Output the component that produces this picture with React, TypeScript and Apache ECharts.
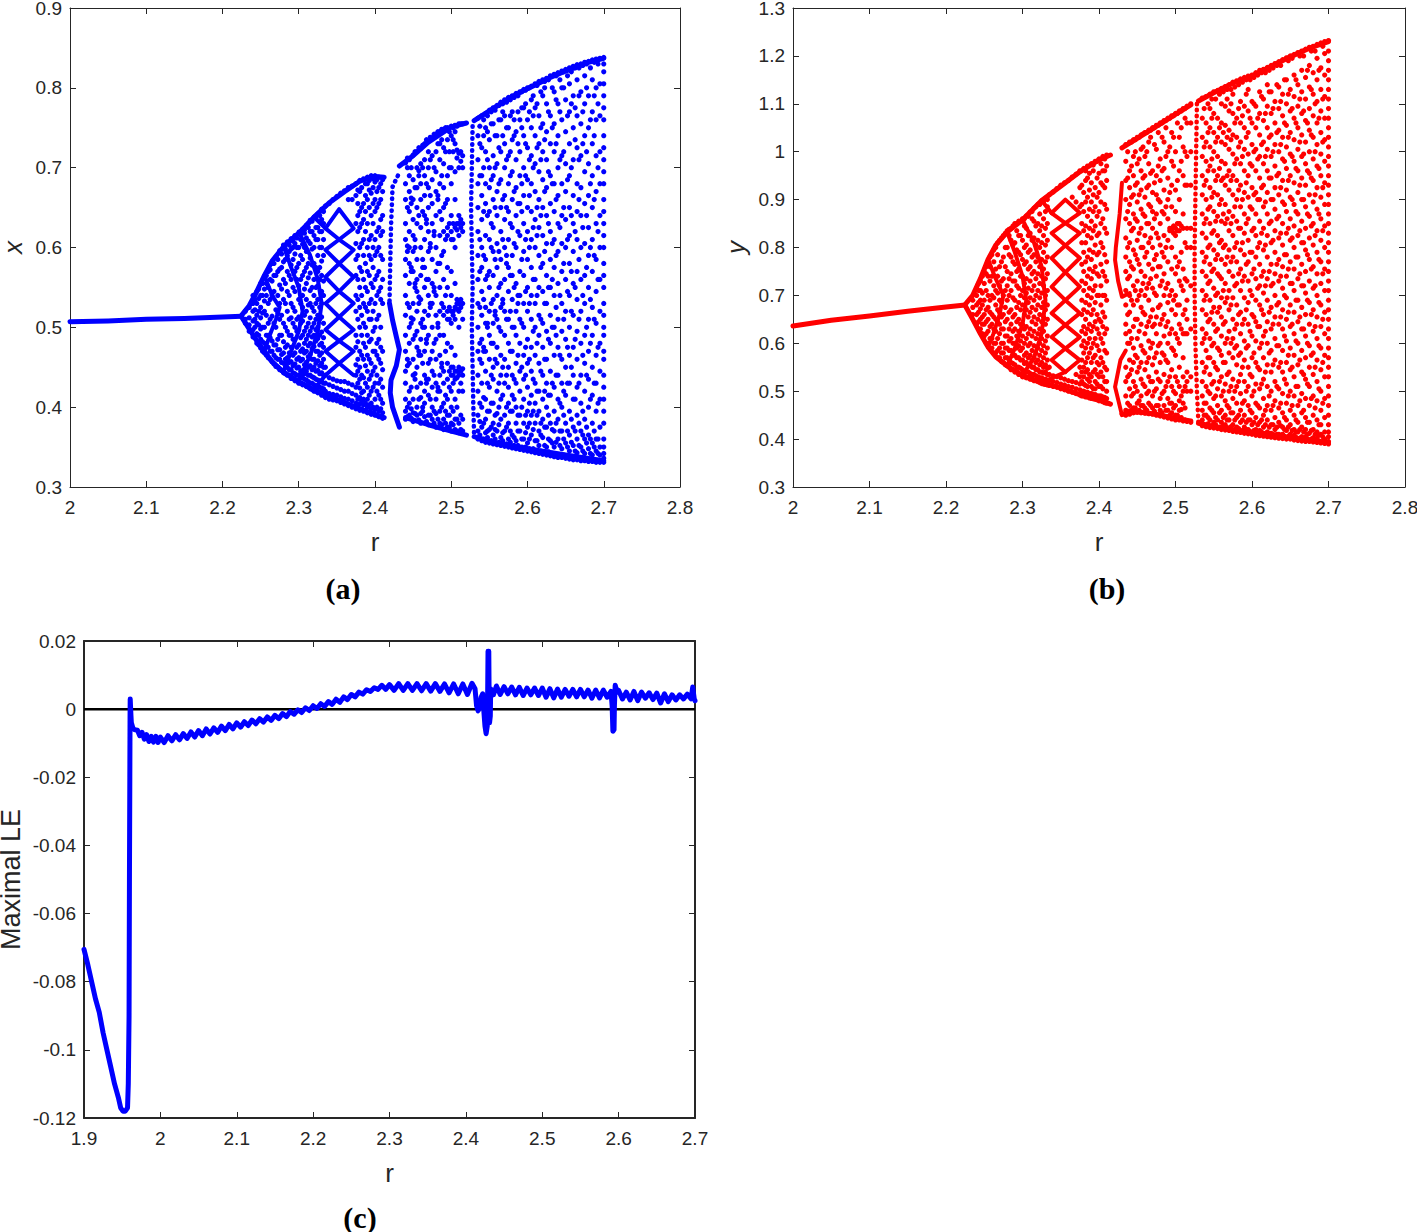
import React, { useEffect, useRef } from "react";
import * as echarts from "echarts";

const BLUE = "#0000ff";
const RED = "#ff0000";
const INK = "#262626";

// Panel (a): stable branch, envelopes and window curves, as [r, x]
const xStable = [[2, 0.507], [2.05, 0.508], [2.1, 0.51], [2.15, 0.511], [2.2, 0.513], [2.225, 0.514]];
const xUpper = [[2.225, 0.515], [2.235, 0.527], [2.245, 0.545], [2.255, 0.565], [2.265, 0.583], [2.28, 0.601], [2.3, 0.618], [2.32, 0.638], [2.34, 0.656], [2.36, 0.67], [2.38, 0.683], [2.4, 0.689], [2.412, 0.688]];
const xLower = [[2.225, 0.513], [2.235, 0.498], [2.245, 0.483], [2.255, 0.47], [2.265, 0.457], [2.28, 0.444], [2.3, 0.432], [2.32, 0.422], [2.35, 0.41], [2.38, 0.398], [2.412, 0.387]];
const xUpper2 = [[2.432, 0.702], [2.45, 0.715], [2.47, 0.732], [2.5, 0.751], [2.52, 0.756]];
const xUpper3 = [[2.53, 0.759], [2.55, 0.771], [2.58, 0.789], [2.6, 0.799], [2.63, 0.813], [2.65, 0.821], [2.68, 0.832], [2.7, 0.837]];
const xLower2 = [[2.44, 0.387], [2.47, 0.378], [2.5, 0.37], [2.52, 0.365]];
const xLower3 = [[2.53, 0.363], [2.56, 0.355], [2.6, 0.348], [2.65, 0.34], [2.7, 0.333]];
const xWindowLow = [[2.419, 0.53], [2.423, 0.509], [2.428, 0.488], [2.432, 0.472], [2.428, 0.452], [2.421, 0.434], [2.42, 0.418], [2.423, 0.4], [2.432, 0.375]];
const xWindowTop = [[2.43, 0.69], [2.423, 0.676], [2.422, 0.65], [2.421, 0.626], [2.42, 0.58], [2.419, 0.53]];
const xWindow2 = [[2.528, 0.752], [2.527, 0.7], [2.526, 0.65], [2.527, 0.6], [2.528, 0.55], [2.527, 0.5], [2.528, 0.45], [2.529, 0.4], [2.53, 0.364]];
const xMeshA = [[2.335, .624], [2.353, .648], [2.372, .624], [2.353, .61], [2.335, .597], [2.353, .58], [2.372, .563], [2.353, .545], [2.335, .53], [2.353, .513], [2.372, .497], [2.353, .483], [2.335, .47], [2.353, .455], [2.372, .44]];
const xMeshB = [[2.335, .624], [2.353, .61], [2.372, .597], [2.353, .58], [2.335, .563], [2.353, .545], [2.372, .53], [2.353, .513], [2.335, .497], [2.353, .483], [2.372, .47], [2.353, .455], [2.335, .44]];
const xMeshC = [[2.28, .602], [2.29, .575], [2.3, .55], [2.305, .52], [2.3, .495], [2.29, .47], [2.28, .444]];
const xMeshD = [[2.3, .62], [2.315, .59], [2.325, .56], [2.33, .53], [2.325, .495], [2.315, .465], [2.3, .433]];
const xMeshE = [[2.255, .565], [2.265, .54], [2.275, .525], [2.27, .51], [2.262, .49], [2.255, .47]];
const xMeshF = [[2.32, .638], [2.335, .624]];
const xMeshG = [[2.32, .422], [2.335, .44]];

// Panel (a): attractor samples, each row is r then the x values read at that r
const xColumns = [
  [2.23, .505, .51, .52], [2.235, .495, .503, .512, .525], [2.24, .488, .497, .508, .52, .53, .54],
  [2.245, .48, .492, .505, .515, .53, .545], [2.25, .474, .485, .498, .512, .525, .54, .555],
  [2.255, .468, .48, .5, .52, .533, .548, .562], [2.26, .462, .475, .49, .505, .53, .55, .57],
  [2.265, .457, .47, .483, .514, .54, .558, .58], [2.27, .451, .462, .478, .5, .522, .565, .588],
  [2.275, .447, .46, .472, .49, .51, .53, .553, .573, .596], [2.28, .443, .455, .468, .482, .505, .535, .56, .582, .603],
  [2.285, .44, .45, .462, .478, .495, .52, .545, .57, .59, .607], [2.29, .436, .447, .457, .475, .49, .512, .53, .56, .578, .598, .611],
  [2.295, .433, .442, .454, .468, .485, .5, .52, .545, .57, .592, .605, .615], [2.3, .43, .44, .45, .462, .478, .497, .513, .535, .552, .58, .6, .618],
  [2.305, .428, .437, .446, .46, .473, .49, .508, .525, .54, .565, .585, .604, .623], [2.31, .426, .434, .445, .456, .47, .485, .5, .52, .535, .555, .575, .595, .612, .628],
  [2.315, .423, .43, .44, .452, .466, .48, .495, .512, .53, .546, .568, .587, .605, .62, .634], [2.32, .42, .428, .437, .45, .46, .476, .49, .505, .52, .54, .56, .58, .6, .615, .638],
  [2.325, .418, .426, .434, .446, .458, .47, .486, .5, .515, .535, .552, .57, .59, .61, .625, .642], [2.33, .415, .424, .432, .443, .455, .468, .48, .494, .513, .53, .545, .565, .583, .6, .62, .635, .648],
  [2.335, .412, .42, .43, .44, .45, .652], [2.34, .41, .417, .428, .437, .655],
  [2.345, .409, .416, .426, .435, .66], [2.35, .408, .415, .424, .433, .664],
  [2.355, .406, .413, .422, .432, .668], [2.36, .404, .411, .42, .432, .671],
  [2.365, .402, .41, .42, .43, .66, .675], [2.37, .4, .408, .417, .428, .66, .677],
  [2.375, .398, .405, .415, .425, .44, .453, .475, .49, .52, .54, .565, .585, .605, .63, .665, .68], [2.38, .396, .404, .412, .424, .435, .45, .47, .5, .525, .55, .575, .6, .625, .645, .67, .684],
  [2.385, .395, .403, .41, .42, .437, .46, .48, .505, .53, .56, .59, .61, .635, .655, .686], [2.39, .393, .4, .41, .425, .445, .465, .49, .52, .545, .57, .6, .63, .66, .68, .688],
  [2.395, .391, .398, .405, .42, .44, .455, .485, .51, .535, .555, .585, .615, .64, .668, .69], [2.4, .39, .397, .41, .43, .45, .47, .5, .53, .56, .59, .61, .645, .66, .682, .69],
  [2.405, .388, .395, .415, .43, .46, .485, .515, .545, .57, .6, .625, .655, .675, .688], [2.41, .386, .393, .405, .425, .447, .47, .53, .56, .585, .62, .64, .67, .685],
  [2.44, .385, .395, .41, .43, .445, .47, .49, .515, .54, .565, .585, .61, .63, .66, .68, .706], [2.445, .39, .405, .42, .455, .48, .5, .525, .555, .58, .6, .62, .645, .67, .69, .71],
  [2.45, .382, .393, .41, .44, .46, .485, .51, .53, .57, .595, .615, .635, .66, .685, .716], [2.455, .39, .4, .425, .45, .475, .495, .52, .545, .56, .585, .63, .65, .675, .7, .72],
  [2.46, .38, .392, .412, .43, .465, .485, .505, .535, .565, .6, .625, .66, .68, .705, .724], [2.465, .388, .405, .42, .44, .47, .5, .52, .55, .575, .61, .64, .665, .69, .71, .73],
  [2.47, .378, .39, .415, .435, .455, .49, .515, .54, .56, .595, .62, .65, .675, .7, .72, .733], [2.475, .385, .4, .425, .445, .47, .5, .53, .555, .585, .63, .655, .685, .715, .737],
  [2.48, .375, .392, .41, .43, .46, .485, .515, .54, .57, .6, .64, .67, .695, .72, .742], [2.485, .38, .395, .42, .44, .465, .49, .52, .55, .58, .615, .645, .68, .71, .73, .745],
  [2.49, .372, .385, .405, .43, .445, .49, .515, .525, .56, .595, .62, .65, .675, .705, .725, .748], [2.495, .375, .39, .41, .435, .455, .48, .51, .52, .55, .575, .615, .625, .66, .69, .735, .75],
  [2.5, .37, .38, .4, .42, .44, .45, .475, .505, .52, .54, .57, .61, .62, .64, .68, .7, .74, .752], [2.505, .372, .385, .41, .435, .445, .465, .51, .525, .555, .6, .625, .66, .695, .73, .745, .753],
  [2.51, .368, .38, .42, .44, .45, .5, .52, .53, .615, .63, .64, .7, .718, .755], [2.515, .37, .385, .42, .44, .448, .51, .53, .62, .63, .7, .715, .755],
  [2.535, .36, .37, .39, .42, .44, .47, .5, .53, .56, .59, .62, .65, .68, .71, .74, .762], [2.54, .358, .375, .4, .43, .455, .485, .515, .545, .575, .6, .635, .665, .69, .725, .765],
  [2.545, .356, .368, .385, .41, .445, .47, .505, .525, .56, .585, .615, .655, .68, .72, .75, .768], [2.55, .355, .372, .395, .425, .46, .49, .52, .55, .57, .61, .645, .675, .7, .735, .772],
  [2.555, .354, .365, .38, .405, .435, .45, .48, .505, .535, .565, .595, .625, .66, .69, .715, .755, .775], [2.56, .353, .37, .392, .42, .455, .475, .51, .54, .575, .605, .64, .67, .705, .74, .778],
  [2.565, .352, .362, .385, .41, .44, .465, .495, .525, .555, .585, .62, .65, .685, .72, .76, .782], [2.57, .351, .37, .39, .43, .46, .49, .52, .56, .6, .635, .665, .7, .73, .765, .785],
  [2.575, .35, .36, .38, .405, .425, .45, .48, .51, .545, .575, .61, .645, .68, .715, .75, .788], [2.58, .349, .365, .395, .415, .44, .47, .5, .535, .565, .59, .625, .66, .695, .735, .77, .79],
  [2.585, .348, .358, .38, .4, .43, .455, .49, .52, .555, .6, .64, .675, .71, .745, .793], [2.59, .347, .37, .39, .42, .445, .48, .51, .54, .57, .615, .655, .69, .72, .76, .795],
  [2.595, .346, .36, .38, .41, .435, .465, .5, .53, .565, .595, .63, .665, .7, .74, .775, .798], [2.6, .345, .355, .375, .395, .425, .455, .485, .52, .55, .585, .62, .65, .685, .725, .76, .8],
  [2.605, .344, .365, .39, .415, .445, .475, .51, .54, .575, .61, .645, .68, .715, .75, .785, .802], [2.61, .343, .358, .38, .405, .43, .465, .5, .53, .56, .6, .635, .67, .705, .74, .775, .805],
  [2.615, .342, .352, .37, .395, .42, .455, .49, .515, .55, .59, .625, .66, .695, .73, .765, .808], [2.62, .341, .362, .385, .41, .44, .475, .505, .545, .58, .615, .65, .685, .72, .755, .79, .81],
  [2.625, .34, .35, .375, .4, .43, .46, .495, .53, .565, .605, .64, .675, .71, .745, .78, .812], [2.63, .339, .358, .38, .415, .445, .48, .515, .55, .585, .62, .655, .69, .73, .765, .815],
  [2.635, .338, .35, .37, .395, .425, .465, .5, .54, .575, .61, .645, .68, .72, .755, .795, .817], [2.64, .337, .36, .385, .41, .44, .475, .51, .555, .595, .63, .665, .7, .74, .78, .819],
  [2.645, .337, .348, .37, .4, .43, .46, .495, .53, .57, .605, .64, .68, .715, .76, .8, .821], [2.65, .336, .355, .38, .415, .45, .485, .52, .56, .6, .635, .67, .705, .745, .785, .823],
  [2.655, .335, .345, .365, .395, .43, .465, .5, .54, .58, .615, .65, .69, .73, .77, .805, .825], [2.66, .334, .352, .375, .41, .44, .475, .515, .555, .595, .63, .665, .71, .75, .79, .827],
  [2.665, .334, .343, .36, .39, .425, .46, .495, .535, .57, .61, .645, .68, .725, .765, .81, .829], [2.67, .333, .35, .37, .405, .44, .48, .52, .56, .6, .64, .675, .715, .755, .795, .83],
  [2.675, .333, .342, .36, .385, .42, .455, .49, .53, .565, .605, .655, .695, .74, .78, .815, .832], [2.68, .332, .348, .365, .4, .435, .47, .51, .55, .59, .625, .665, .705, .75, .79, .833],
  [2.685, .332, .34, .355, .38, .415, .45, .49, .525, .57, .61, .65, .69, .73, .77, .81, .835], [2.69, .331, .345, .36, .395, .43, .465, .505, .545, .585, .63, .67, .715, .76, .8, .836],
  [2.695, .331, .34, .35, .375, .41, .445, .48, .52, .56, .6, .64, .68, .72, .765, .805, .837],
  [2.7, .331, .336, .342, .35, .36, .38, .395, .41, .425, .44, .46, .47, .49, .5, .515, .53, .55, .565, .58, .6, .615, .63, .645, .66, .68, .695, .71, .725, .74, .76, .775, .79, .805, .82, .83, .838],
];

// Panel (a): further irregular samples read between the rows above
const xExtra = [
  [2.4425, .388, .4, .452, .46, .53, .595, .602, .65, .7, .712], [2.4475, .386, .398, .425, .505, .512, .57, .575, .655, .662, .7],
  [2.4525, .392, .435, .442, .49, .55, .555, .61, .6, .675, .72], [2.4575, .384, .41, .465, .47, .53, .538, .64, .69, .696, .725],
  [2.4625, .395, .4, .455, .5, .51, .575, .585, .645, .7, .728], [2.4675, .382, .43, .435, .48, .485, .56, .63, .635, .68, .735],
  [2.4725, .39, .41, .46, .525, .53, .6, .605, .665, .71, .738], [2.4775, .38, .395, .44, .48, .545, .55, .615, .62, .7, .742],
  [2.4825, .385, .42, .425, .5, .505, .58, .66, .665, .73, .745], [2.4875, .378, .4, .45, .455, .53, .59, .635, .69, .735, .748],
  [2.4925, .38, .395, .415, .47, .54, .61, .655, .72, .75], [2.4975, .375, .39, .425, .445, .51, .525, .63, .7, .72, .745],
  [2.5025, .378, .395, .43, .44, .45, .515, .52, .61, .63, .72, .735, .75], [2.5075, .37, .385, .4, .437, .445, .523, .53, .535, .622, .63, .712, .722, .752], [2.5125, .372, .39, .43, .445, .525, .535, .625, .635, .708, .72, .755],
  [2.5375, .365, .382, .405, .46, .48, .525, .57, .61, .69, .73, .752], [2.5425, .36, .38, .412, .47, .475, .535, .59, .645, .7, .74, .76],
  [2.5475, .362, .37, .395, .43, .5, .505, .565, .64, .71, .745, .765], [2.5525, .358, .375, .405, .44, .48, .53, .6, .63, .685, .755, .77],
  [2.5575, .36, .372, .39, .46, .515, .52, .585, .65, .7, .74, .772], [2.5625, .356, .378, .4, .43, .5, .55, .595, .68, .725, .76, .778],
  [2.5675, .358, .368, .415, .45, .53, .535, .61, .66, .74, .77, .78], [2.5725, .354, .375, .4, .44, .51, .58, .59, .65, .71, .75, .782],
  [2.5775, .356, .37, .395, .47, .52, .565, .63, .69, .72, .765, .785], [2.5825, .352, .362, .41, .435, .5, .55, .605, .67, .74, .76, .788],
  [2.5875, .352, .37, .39, .465, .53, .54, .62, .655, .73, .77, .79], [2.5925, .35, .36, .4, .45, .505, .585, .645, .68, .75, .775, .795],
  [2.5975, .35, .368, .39, .44, .475, .545, .61, .69, .73, .78, .797], [2.6025, .348, .36, .38, .405, .46, .53, .6, .665, .71, .77, .8],
  [2.6075, .348, .372, .395, .435, .495, .56, .625, .7, .765, .79], [2.6125, .346, .358, .39, .42, .48, .54, .615, .65, .725, .78, .803],
  [2.6175, .345, .365, .38, .445, .51, .575, .64, .71, .75, .795], [2.6225, .344, .352, .375, .42, .46, .53, .595, .67, .735, .8, .808],
  [2.6275, .344, .36, .39, .415, .485, .55, .63, .695, .77, .81], [2.6325, .342, .355, .372, .43, .5, .56, .605, .68, .75, .8],
  [2.6375, .34, .356, .38, .44, .49, .525, .59, .66, .73, .785, .815], [2.6425, .34, .352, .37, .405, .465, .54, .625, .71, .77, .81],
  [2.6475, .34, .36, .39, .42, .51, .58, .65, .72, .8, .82], [2.6525, .338, .35, .37, .43, .475, .545, .61, .685, .765, .815],
  [2.6575, .338, .356, .385, .45, .52, .57, .64, .7, .78, .82], [2.6625, .336, .345, .37, .41, .485, .55, .62, .735, .775, .825],
  [2.6675, .336, .352, .38, .43, .51, .585, .66, .71, .79, .825], [2.6725, .335, .345, .365, .395, .465, .54, .625, .73, .77, .828],
  [2.6775, .335, .355, .375, .44, .5, .575, .64, .72, .8, .83], [2.6825, .334, .342, .36, .41, .48, .535, .6, .68, .76, .825],
  [2.6875, .333, .35, .37, .43, .51, .59, .66, .74, .79, .832], [2.6925, .333, .342, .36, .405, .475, .56, .62, .7, .78, .83],
];

// Panel (a): dense lattice samples left and right of the diamond holes
const xLattice = [
  [2.2425, .487, .5, .51, .522, .535, .54], [2.2475, .478, .49, .503, .52, .536, .548], [2.2525, .47, .482, .5, .518, .54, .555],
  [2.2575, .465, .476, .49, .515, .54, .555, .565], [2.2625, .46, .47, .487, .51, .535, .56, .572], [2.2675, .454, .465, .478, .505, .545, .565, .58],
  [2.2725, .45, .46, .472, .485, .518, .54, .57, .585], [2.2775, .446, .456, .466, .49, .515, .548, .575, .592], [2.2825, .442, .45, .46, .475, .5, .53, .555, .585, .598],
  [2.2875, .44, .447, .456, .468, .49, .51, .54, .565, .595, .603], [2.2925, .436, .443, .452, .465, .485, .505, .525, .55, .585, .6, .608], [2.2975, .433, .44, .449, .46, .475, .495, .51, .56, .575, .6, .612],
  [2.3025, .43, .437, .445, .458, .47, .487, .505, .53, .56, .59, .61, .617], [2.3075, .428, .435, .442, .453, .468, .48, .495, .515, .548, .57, .6, .618, .622], [2.3125, .425, .432, .44, .45, .463, .477, .49, .505, .528, .562, .58, .608, .625, .63],
  [2.3175, .422, .43, .438, .447, .46, .473, .488, .5, .525, .55, .578, .598, .62, .633], [2.3225, .42, .427, .435, .445, .455, .47, .483, .497, .51, .53, .55, .575, .61, .625, .637], [2.3275, .418, .425, .433, .442, .452, .465, .478, .49, .51, .525, .56, .575, .6, .62, .64],
  [2.3325, .415, .423, .43, .44, .45, .46, .475, .487, .505, .54, .558, .59, .61, .63, .645], [2.3775, .4, .41, .43, .445, .46, .482, .51, .535, .56, .59, .62, .64, .655, .672],
  [2.3825, .398, .408, .418, .44, .465, .49, .515, .54, .57, .605, .63, .65, .675], [2.3875, .396, .405, .43, .452, .475, .5, .525, .55, .58, .62, .645, .665, .68],
  [2.3925, .394, .403, .415, .435, .46, .482, .51, .53, .565, .59, .61, .65, .672, .684], [2.3975, .392, .4, .425, .445, .47, .495, .52, .55, .575, .6, .63, .655, .675, .686],
  [2.4025, .39, .4, .42, .44, .465, .48, .51, .54, .565, .595, .62, .65, .67, .685], [2.4075, .388, .398, .41, .435, .455, .475, .5, .535, .55, .59, .615, .635, .66, .68],
];

// Panel (b): stable branch, envelopes and window curves, as [r, y]
const yStable = [[2, 0.636], [2.05, 0.648], [2.1, 0.657], [2.15, 0.667], [2.2, 0.676], [2.225, 0.68]];
const yUpper = [[2.225, 0.681], [2.235, 0.7], [2.245, 0.735], [2.255, 0.775], [2.265, 0.805], [2.28, 0.832], [2.3, 0.858], [2.325, 0.898], [2.35, 0.928], [2.375, 0.958], [2.4, 0.983], [2.415, 0.993]];
const yLower = [[2.225, 0.679], [2.235, 0.65], [2.245, 0.62], [2.255, 0.592], [2.265, 0.572], [2.28, 0.553], [2.3, 0.533], [2.325, 0.518], [2.35, 0.507], [2.375, 0.493], [2.4, 0.483], [2.415, 0.473]];
const yUpper2 = [[2.43, 1.008], [2.45, 1.028], [2.475, 1.053], [2.5, 1.078], [2.52, 1.098]];
const yUpper3 = [[2.53, 1.106], [2.55, 1.123], [2.575, 1.143], [2.6, 1.158], [2.625, 1.178], [2.65, 1.198], [2.675, 1.216], [2.7, 1.23]];
const yLower2 = [[2.43, 0.452], [2.45, 0.457], [2.475, 0.452], [2.5, 0.443], [2.52, 0.438]];
const yLower3 = [[2.53, 0.433], [2.56, 0.423], [2.6, 0.413], [2.65, 0.403], [2.7, 0.393]];
const yWindowUp = [[2.43, 0.935], [2.427, 0.87], [2.422, 0.8], [2.421, 0.774], [2.425, 0.73], [2.43, 0.697], [2.44, 0.705]];
const yWindowLow = [[2.44, 0.46], [2.43, 0.45], [2.421, 0.509], [2.428, 0.565], [2.435, 0.585]];
const yWindow2 = [[2.528, 1.1], [2.527, 1.0], [2.526, 0.9], [2.525, 0.8], [2.525, 0.7], [2.526, 0.6], [2.528, 0.5], [2.53, 0.433]];
const yMeshA = [[2.338, .872], [2.356, .9], [2.375, .872], [2.356, .851], [2.338, .83], [2.356, .804], [2.375, .778], [2.356, .748], [2.338, .718], [2.356, .69], [2.375, .663], [2.356, .638], [2.338, .613], [2.356, .589], [2.375, .565], [2.356, .54]];
const yMeshB = [[2.338, .872], [2.356, .851], [2.375, .83], [2.356, .804], [2.338, .778], [2.356, .748], [2.375, .718], [2.356, .69], [2.338, .663], [2.356, .638], [2.375, .613], [2.356, .589], [2.338, .565], [2.356, .54]];
const yMeshC = [[2.28, .832], [2.29, .79], [2.3, .74], [2.305, .69], [2.3, .64], [2.29, .59], [2.28, .553]];
const yMeshD = [[2.3, .858], [2.315, .81], [2.325, .76], [2.33, .69], [2.325, .62], [2.315, .57], [2.3, .533]];
const yMeshE = [[2.255, .775], [2.265, .735], [2.275, .7], [2.27, .66], [2.262, .62], [2.255, .592]];
const yMeshF = [[2.325, .898], [2.338, .872]];
const yMeshG = [[2.325, .518], [2.356, .54]];

// Panel (b): attractor samples, each row is r then the y values read at that r
const yColumns = [
  [2.235, .66, .675, .69], [2.24, .64, .66, .68, .7, .715], [2.245, .63, .65, .672, .69, .71, .73],
  [2.25, .615, .64, .66, .69, .725, .75], [2.255, .6, .625, .65, .675, .7, .74, .77], [2.26, .59, .61, .64, .66, .7, .74, .785],
  [2.265, .58, .6, .625, .65, .68, .71, .755, .8], [2.27, .57, .59, .62, .64, .665, .69, .72, .76, .815], [2.275, .56, .58, .6, .63, .66, .7, .735, .78, .825],
  [2.28, .553, .57, .59, .615, .65, .69, .72, .75, .8, .835], [2.285, .545, .56, .585, .61, .64, .67, .71, .745, .78, .815, .84], [2.29, .54, .555, .575, .6, .63, .66, .69, .73, .765, .81, .85],
  [2.295, .535, .55, .57, .595, .625, .65, .685, .715, .755, .79, .825, .855], [2.3, .53, .545, .565, .59, .615, .64, .68, .71, .74, .775, .815, .86], [2.305, .528, .54, .56, .58, .61, .635, .67, .705, .735, .77, .805, .84, .866],
  [2.31, .525, .537, .555, .575, .6, .63, .665, .695, .73, .76, .795, .83, .874], [2.315, .522, .535, .55, .57, .595, .625, .655, .69, .72, .75, .785, .82, .855, .882], [2.32, .52, .53, .545, .565, .59, .62, .65, .68, .71, .745, .78, .815, .85, .89],
  [2.325, .516, .528, .54, .56, .585, .61, .645, .675, .705, .74, .775, .81, .845, .897], [2.33, .514, .525, .54, .555, .58, .605, .64, .67, .7, .735, .77, .805, .84, .875, .903], [2.335, .512, .522, .535, .55, .91],
  [2.34, .51, .52, .532, .916], [2.345, .508, .518, .53, .923], [2.35, .505, .515, .528, .93],
  [2.355, .503, .513, .525, .935], [2.36, .5, .51, .522, .94], [2.365, .498, .508, .52, .905, .947],
  [2.37, .495, .505, .518, .535, .895, .953], [2.375, .492, .503, .515, .53, .55, .885, .925, .96], [2.38, .49, .5, .515, .53, .55, .58, .605, .635, .67, .71, .75, .79, .835, .875, .915, .965],
  [2.385, .488, .498, .51, .525, .545, .57, .6, .63, .665, .7, .74, .78, .825, .865, .905, .945, .97], [2.39, .485, .495, .51, .53, .56, .59, .625, .66, .695, .735, .775, .82, .855, .895, .935, .975], [2.395, .483, .493, .505, .52, .545, .575, .61, .645, .685, .72, .76, .805, .845, .885, .925, .98],
  [2.4, .48, .49, .51, .53, .555, .585, .62, .65, .7, .74, .79, .83, .875, .915, .955, .985], [2.405, .478, .488, .505, .53, .56, .6, .635, .665, .7, .75, .8, .86, .93, .96, .99], [2.41, .475, .485, .5, .52, .545, .58, .63, .69, .73, .77, .83, .88, .94, .97, .993],
  [2.435, .45, .46, .49, .52, .55, .62, .64, .68, .71, .75, .78, .82, .86, .9, .94, .98, 1.015], [2.44, .452, .47, .505, .535, .565, .6, .625, .665, .7, .74, .77, .81, .85, .89, .925, .96, 1.02], [2.445, .455, .465, .495, .52, .56, .59, .635, .68, .72, .755, .795, .84, .87, .91, .95, .99, 1.025],
  [2.45, .456, .475, .5, .54, .57, .61, .65, .69, .73, .775, .815, .855, .895, .935, .975, 1.03], [2.455, .455, .47, .49, .525, .56, .595, .64, .675, .71, .75, .8, .84, .88, .92, .96, 1.005, 1.035], [2.46, .454, .465, .51, .545, .58, .62, .66, .7, .74, .78, .825, .865, .905, .95, .99, 1.04],
  [2.465, .453, .475, .5, .53, .57, .605, .645, .69, .725, .765, .81, .85, .89, .93, .975, 1.02, 1.045], [2.47, .452, .465, .49, .52, .555, .6, .635, .67, .715, .755, .8, .84, .875, .915, .96, 1.05], [2.475, .45, .47, .505, .54, .58, .62, .655, .7, .74, .785, .83, .87, .91, .95, 1.005, 1.055],
  [2.48, .448, .46, .485, .52, .56, .6, .64, .68, .72, .76, .805, .85, .895, .94, .985, 1.06], [2.485, .446, .47, .5, .535, .575, .615, .66, .7, .745, .78, .825, .87, .92, .965, 1.02, 1.065], [2.49, .444, .46, .485, .52, .56, .6, .645, .685, .725, .77, .815, .86, .9, .945, 1.0, 1.07],
  [2.495, .442, .455, .475, .51, .545, .59, .63, .67, .71, .755, .8, .84, .835, .885, .93, .98, 1.04, 1.075], [2.5, .44, .45, .47, .495, .53, .575, .62, .66, .7, .745, .78, .825, .84, .875, .92, 1.0, 1.08], [2.505, .44, .46, .48, .51, .55, .6, .64, .68, .73, .77, .835, .85, .9, .96, 1.03, 1.085],
  [2.51, .438, .475, .5, .53, .57, .62, .66, .71, .755, .84, .87, .95, 1.01, 1.09], [2.515, .437, .5, .52, .54, .62, .65, .69, .73, .8, .84, .93, .99, 1.06, 1.095], [2.52, .435, .5, .53, .63, .72, .8, .84, .93, 1.0, 1.06, 1.1],
  [2.535, .428, .44, .46, .49, .52, .56, .6, .63, .67, .71, .75, .79, .83, .87, .91, .95, .99, 1.03, 1.07, 1.112], [2.54, .426, .45, .475, .51, .55, .585, .62, .66, .7, .74, .78, .82, .86, .9, .94, .98, 1.02, 1.06, 1.115],
  [2.545, .424, .44, .465, .495, .535, .57, .61, .65, .69, .73, .765, .805, .85, .885, .925, .97, 1.01, 1.05, 1.09, 1.12], [2.55, .423, .435, .455, .485, .52, .56, .6, .64, .675, .715, .755, .795, .835, .875, .915, .96, 1.0, 1.04, 1.08, 1.125],
  [2.555, .422, .44, .47, .505, .545, .59, .63, .665, .705, .745, .785, .825, .865, .91, .95, .99, 1.03, 1.07, 1.128], [2.56, .42, .435, .46, .49, .53, .575, .615, .655, .695, .735, .775, .815, .855, .9, .94, .98, 1.02, 1.06, 1.1, 1.132],
  [2.565, .419, .43, .45, .48, .515, .56, .6, .645, .685, .725, .765, .805, .85, .89, .93, .975, 1.015, 1.055, 1.095, 1.136], [2.57, .418, .44, .465, .5, .54, .58, .625, .67, .71, .75, .795, .835, .875, .92, .96, 1.005, 1.045, 1.085, 1.14],
  [2.575, .416, .43, .455, .485, .525, .57, .61, .65, .695, .74, .78, .825, .865, .91, .95, .995, 1.035, 1.08, 1.12, 1.145], [2.58, .415, .425, .445, .475, .51, .555, .595, .64, .68, .725, .77, .81, .855, .9, .94, .985, 1.03, 1.07, 1.148],
  [2.585, .414, .435, .46, .495, .535, .58, .62, .665, .71, .755, .795, .84, .885, .93, .975, 1.02, 1.06, 1.105, 1.152], [2.59, .412, .425, .45, .48, .52, .565, .605, .65, .695, .74, .785, .83, .87, .915, .96, 1.005, 1.05, 1.095, 1.155],
  [2.595, .411, .42, .44, .47, .51, .55, .595, .64, .685, .73, .77, .815, .86, .905, .95, .995, 1.04, 1.085, 1.13, 1.158], [2.6, .41, .43, .455, .49, .53, .57, .615, .66, .7, .745, .79, .835, .88, .925, .97, 1.015, 1.06, 1.105, 1.16],
  [2.605, .408, .42, .445, .475, .515, .56, .605, .645, .69, .735, .78, .825, .87, .915, .96, 1.005, 1.05, 1.095, 1.165], [2.61, .407, .418, .435, .465, .505, .545, .59, .635, .68, .72, .765, .81, .855, .9, .945, .99, 1.035, 1.08, 1.125, 1.17],
  [2.615, .406, .425, .45, .485, .525, .57, .615, .66, .705, .75, .795, .84, .885, .93, .975, 1.02, 1.065, 1.11, 1.172], [2.62, .405, .415, .44, .47, .51, .555, .6, .645, .69, .735, .78, .825, .87, .915, .96, 1.005, 1.05, 1.095, 1.14, 1.176],
  [2.625, .404, .412, .43, .46, .5, .54, .585, .63, .675, .72, .765, .81, .855, .9, .945, .99, 1.035, 1.08, 1.125, 1.18], [2.63, .403, .42, .445, .48, .52, .565, .61, .655, .7, .745, .79, .835, .88, .925, .97, 1.015, 1.06, 1.105, 1.184],
  [2.635, .402, .41, .435, .465, .505, .55, .595, .64, .685, .73, .775, .82, .865, .91, .955, 1.0, 1.045, 1.09, 1.135, 1.188], [2.64, .401, .41, .425, .455, .495, .54, .585, .63, .67, .715, .76, .805, .85, .895, .94, .985, 1.03, 1.075, 1.12, 1.192],
  [2.645, .4, .418, .44, .475, .515, .56, .605, .65, .695, .74, .785, .83, .875, .92, .965, 1.01, 1.055, 1.1, 1.15, 1.196], [2.65, .4, .41, .43, .46, .5, .545, .59, .635, .68, .725, .77, .815, .86, .905, .95, .995, 1.04, 1.085, 1.13, 1.2],
  [2.655, .398, .408, .42, .45, .49, .53, .575, .62, .665, .71, .755, .8, .845, .89, .935, .98, 1.025, 1.07, 1.115, 1.16, 1.203], [2.66, .397, .415, .435, .47, .51, .555, .6, .645, .69, .735, .78, .825, .87, .915, .96, 1.005, 1.05, 1.095, 1.14, 1.207],
  [2.665, .396, .405, .425, .455, .495, .54, .585, .63, .675, .72, .765, .81, .855, .9, .945, .99, 1.035, 1.08, 1.125, 1.17, 1.21], [2.67, .395, .405, .42, .445, .485, .525, .57, .615, .66, .705, .75, .795, .84, .885, .93, .975, 1.02, 1.065, 1.11, 1.155, 1.214],
  [2.675, .395, .412, .435, .47, .51, .55, .595, .64, .685, .73, .775, .82, .865, .91, .955, 1.0, 1.045, 1.09, 1.135, 1.18, 1.218], [2.68, .394, .403, .42, .45, .49, .535, .58, .625, .67, .715, .76, .805, .85, .895, .94, .985, 1.03, 1.075, 1.12, 1.165, 1.22],
  [2.685, .393, .402, .415, .44, .48, .52, .565, .61, .655, .7, .745, .79, .835, .88, .925, .97, 1.015, 1.06, 1.105, 1.15, 1.195, 1.224], [2.69, .392, .41, .43, .46, .5, .545, .59, .635, .68, .725, .77, .815, .86, .905, .95, .995, 1.04, 1.085, 1.13, 1.175, 1.227],
  [2.695, .391, .4, .415, .445, .485, .53, .575, .62, .665, .71, .755, .8, .845, .89, .935, .98, 1.025, 1.07, 1.115, 1.16, 1.205, 1.23],
  [2.7, .39, .395, .405, .415, .43, .45, .47, .49, .51, .53, .55, .57, .59, .61, .63, .65, .67, .69, .71, .73, .75, .77, .79, .81, .83, .85, .87, .89, .91, .93, .95, .97, .99, 1.01, 1.03, 1.05, 1.07, 1.09, 1.11, 1.13, 1.15, 1.17, 1.19, 1.21, 1.232],
];

// Panel (b): further irregular samples read between the rows above
const yExtra = [
  [2.4375, .458, .475, .53, .6, .66, .735, .8, .875, .945, 1.0], [2.4425, .46, .49, .545, .61, .69, .76, .835, .905, .97, 1.02],
  [2.4475, .465, .51, .575, .65, .71, .785, .86, .93, 1.0, 1.025], [2.4525, .46, .48, .55, .625, .7, .765, .83, .91, .985, 1.03],
  [2.4575, .47, .515, .585, .665, .725, .8, .87, .945, 1.01, 1.037], [2.4625, .46, .495, .56, .635, .715, .79, .85, .925, 1.0, 1.04],
  [2.4675, .47, .52, .59, .655, .735, .82, .885, .955, 1.03, 1.045], [2.4725, .458, .5, .57, .64, .705, .775, .86, .935, 1.015, 1.05],
  [2.4775, .47, .525, .595, .675, .76, .82, .9, .97, 1.04, 1.055], [2.4825, .455, .495, .58, .65, .73, .79, .875, .96, 1.03, 1.06],
  [2.4875, .46, .51, .565, .635, .715, .8, .885, .99, 1.05, 1.065], [2.4925, .45, .475, .53, .62, .7, .835, .84, .915, 1.01, 1.07],
  [2.4975, .445, .465, .5, .585, .69, .83, .845, .97, 1.03, 1.075], [2.5025, .45, .52, .61, .68, .76, .835, .85, .94, 1.06, 1.08],
  [2.5075, .445, .462, .49, .63, .72, .79, .845, .98, 1.05, 1.085], [2.5125, .44, .465, .51, .62, .67, .735, .81, .93, 1.0, 1.07, 1.09],
  [2.5375, .43, .45, .475, .54, .61, .69, .77, .85, .93, 1.01, 1.09], [2.5425, .432, .445, .5, .57, .645, .725, .8, .88, .96, 1.04, 1.1],
  [2.5475, .428, .46, .515, .595, .665, .75, .83, .905, .985, 1.07, 1.11], [2.5525, .43, .445, .49, .55, .625, .7, .775, .855, .94, 1.02, 1.11],
  [2.5575, .425, .455, .52, .585, .675, .74, .81, .89, .965, 1.05, 1.12], [2.5625, .428, .445, .5, .56, .64, .71, .8, .87, .945, 1.04, 1.125],
  [2.5675, .424, .44, .47, .535, .61, .695, .78, .86, .95, 1.03, 1.11, 1.13], [2.5725, .426, .455, .51, .6, .68, .77, .85, .94, 1.025, 1.1, 1.13],
  [2.5775, .42, .44, .5, .59, .63, .72, .8, .885, .975, 1.06, 1.135], [2.5825, .422, .45, .52, .575, .66, .745, .84, .92, 1.01, 1.09, 1.14],
  [2.5875, .418, .44, .475, .55, .64, .73, .81, .9, .99, 1.075, 1.145], [2.5925, .42, .435, .5, .59, .67, .765, .85, .935, 1.03, 1.12, 1.15],
  [2.5975, .416, .44, .46, .535, .625, .71, .79, .885, .975, 1.07, 1.15], [2.6025, .418, .435, .5, .58, .655, .755, .84, .91, 1.0, 1.1, 1.155],
  [2.6075, .414, .43, .47, .55, .635, .715, .8, .9, .985, 1.07, 1.16], [2.6125, .415, .44, .515, .6, .67, .74, .83, .925, 1.015, 1.115, 1.165],
  [2.6175, .412, .43, .46, .54, .625, .72, .805, .895, .99, 1.08, 1.165], [2.6225, .412, .425, .49, .58, .665, .75, .85, .945, 1.03, 1.125, 1.17],
  [2.6275, .41, .43, .47, .555, .64, .725, .815, .9, 1.0, 1.09, 1.175], [2.6325, .41, .425, .51, .595, .68, .765, .86, .95, 1.04, 1.14, 1.18],
  [2.6375, .408, .428, .475, .56, .655, .74, .83, .925, 1.015, 1.105, 1.18], [2.6425, .406, .42, .445, .525, .615, .7, .785, .89, .98, 1.06, 1.15],
  [2.6475, .406, .425, .49, .575, .665, .755, .84, .94, 1.03, 1.12, 1.19], [2.6525, .404, .418, .47, .55, .64, .725, .82, .9, .99, 1.09, 1.195],
  [2.6575, .404, .415, .44, .51, .605, .69, .78, .875, .965, 1.06, 1.15], [2.6625, .402, .42, .48, .565, .655, .745, .835, .93, 1.02, 1.11, 1.2],
  [2.6675, .4, .415, .46, .535, .63, .72, .81, .9, .995, 1.085, 1.2], [2.6725, .4, .41, .435, .515, .6, .69, .785, .87, .96, 1.06, 1.17],
  [2.6775, .4, .418, .485, .575, .66, .755, .845, .945, 1.035, 1.13, 1.21], [2.6825, .398, .41, .465, .55, .635, .72, .825, .91, 1.0, 1.1, 1.21],
  [2.6875, .396, .408, .43, .505, .595, .685, .775, .87, .965, 1.07, 1.17], [2.6925, .395, .405, .475, .56, .65, .745, .835, .925, 1.02, 1.11, 1.22],
];

// Panel (b): dense lattice samples left and right of the diamond holes
const yLattice = [
  [2.2425, .63, .645, .665, .685, .71, .725], [2.2475, .62, .64, .655, .68, .705, .74], [2.2525, .6, .62, .645, .67, .71, .745, .76],
  [2.2575, .59, .61, .635, .665, .69, .73, .76, .78], [2.2625, .58, .6, .63, .655, .695, .72, .77, .795], [2.2675, .57, .585, .61, .645, .67, .705, .74, .785, .81],
  [2.2725, .562, .58, .6, .63, .655, .685, .73, .77, .82], [2.2775, .555, .57, .59, .615, .645, .675, .71, .76, .8, .83], [2.2825, .55, .565, .585, .605, .63, .665, .7, .735, .785, .825, .838],
  [2.2875, .545, .558, .575, .6, .625, .655, .695, .73, .77, .805, .845], [2.2925, .54, .55, .57, .59, .615, .645, .675, .72, .75, .795, .835, .85], [2.2975, .535, .548, .565, .585, .605, .64, .67, .7, .74, .785, .825, .855],
  [2.3025, .53, .542, .558, .575, .6, .63, .66, .695, .725, .765, .8, .845, .86], [2.3075, .528, .54, .553, .57, .595, .62, .655, .685, .715, .755, .79, .825, .865], [2.3125, .525, .535, .55, .565, .585, .615, .645, .675, .71, .745, .78, .815, .86, .875],
  [2.3175, .522, .532, .545, .56, .58, .61, .64, .67, .7, .735, .77, .805, .845, .885], [2.3225, .518, .528, .54, .555, .575, .6, .63, .66, .695, .725, .76, .8, .835, .87, .89], [2.3275, .515, .525, .538, .55, .57, .595, .625, .655, .685, .72, .755, .79, .825, .86, .895],
  [2.3325, .513, .523, .535, .548, .565, .59, .615, .65, .68, .71, .745, .78, .815, .85, .885, .9], [2.3775, .49, .5, .52, .54, .565, .595, .625, .66, .69, .73, .765, .81, .85, .89, .93],
  [2.3825, .488, .498, .512, .54, .56, .59, .62, .65, .685, .725, .77, .81, .845, .895, .94, .96], [2.3875, .486, .495, .52, .535, .58, .61, .64, .68, .715, .755, .795, .84, .88, .92, .955],
  [2.3925, .484, .493, .505, .54, .57, .6, .635, .67, .71, .75, .79, .835, .875, .91, .96, .972], [2.3975, .482, .49, .515, .535, .56, .595, .63, .66, .7, .745, .785, .825, .865, .905, .945, .98],
  [2.4025, .48, .49, .51, .54, .57, .61, .645, .68, .72, .765, .81, .85, .895, .935, .975], [2.4075, .476, .487, .52, .55, .585, .62, .655, .7, .74, .785, .84, .89, .925, .96, .985],
];

// Panel (c): maximal Lyapunov exponent curve, as [r, LE]
const leCurve = [
  [1.9, -.0705], [1.905, -.075], [1.91, -.08], [1.915, -.085], [1.92, -.089], [1.925, -.095], [1.93, -.1], [1.935, -.105], [1.94, -.11], [1.945, -.114], [1.948, -.117], [1.951, -.118], [1.954, -.118], [1.957, -.117], [1.958, -.11], [1.959, -.09], [1.9595, -.05], [1.96, -.02], [1.9603, -.002], [1.9605, .003], [1.961, .003], [1.9615, -.002], [1.962, -.004], [1.964, -.0055], [1.966, -.006],
  [1.97, -.0062], [1.973, -.0078], [1.976, -.0068], [1.979, -.0088], [1.982, -.0075], [1.985, -.0095], [1.988, -.008], [1.991, -.0097], [1.994, -.008], [1.997, -.0098], [2, -.0082], [2.005, -.0098], [2.01, -.0078], [2.015, -.0093], [2.02, -.0075], [2.025, -.009], [2.03, -.0072], [2.035, -.0086], [2.04, -.0067], [2.045, -.0082], [2.05, -.0063], [2.055, -.0078], [2.06, -.0058], [2.065, -.0073], [2.07, -.0055], [2.075, -.0068], [2.08, -.005], [2.085, -.0063], [2.09, -.0045], [2.095, -.0058], [2.1, -.004], [2.105, -.0053], [2.11, -.0037], [2.115, -.0048], [2.12, -.0032], [2.125, -.0043], [2.13, -.0028], [2.135, -.0038], [2.14, -.0023], [2.145, -.0033], [2.15, -.0018], [2.155, -.0028], [2.16, -.0013], [2.165, -.0022], [2.17, -.0007], [2.175, -.0015], [2.18, -.0002], [2.185, -.001], [2.19, .0004], [2.195, -.0004], [2.2, .001], [2.205, .0002], [2.21, .0016], [2.215, .0008], [2.22, .0022], [2.225, .0014], [2.23, .0029], [2.235, .002], [2.24, .0036], [2.245, .0028], [2.25, .0043], [2.255, .0036], [2.26, .005], [2.265, .0044], [2.27, .0057], [2.275, .0052], [2.28, .0063], [2.285, .0058], [2.29, .007], [2.295, .0058],
  [2.3, .0072], [2.306, .0055], [2.312, .0075], [2.318, .0055], [2.324, .0075], [2.33, .0055], [2.336, .0075], [2.342, .0054], [2.348, .0075], [2.354, .0053], [2.36, .0075], [2.366, .0052], [2.372, .0074], [2.378, .0048], [2.384, .0074], [2.39, .0045], [2.396, .0074], [2.402, .0043], [2.408, .0076], [2.412, .006], [2.414, .001], [2.416, -.0005], [2.418, .0005], [2.42, .0035], [2.422, .0045], [2.423, .001], [2.425, -.005], [2.4265, -.0072], [2.428, -.005], [2.4285, .004], [2.429, .017], [2.43, .017], [2.4305, .002], [2.431, -.004], [2.432, -.002], [2.4325, .006], [2.436, .0042],
  [2.44, .0068], [2.445, .0043], [2.45, .0066], [2.455, .0045], [2.46, .0065], [2.465, .0042], [2.47, .0064], [2.475, .004], [2.48, .0062], [2.485, .0042], [2.49, .0062], [2.495, .004], [2.5, .0062], [2.505, .0035], [2.51, .006], [2.515, .0033], [2.52, .0059], [2.525, .0035], [2.53, .0058], [2.535, .0038], [2.54, .0058], [2.545, .0036], [2.55, .0058], [2.555, .0036], [2.56, .0056], [2.565, .0032], [2.57, .0056], [2.575, .0033], [2.58, .0056], [2.585, .0035], [2.59, .0052], [2.5915, .001], [2.5925, -.0065], [2.594, -.006], [2.5945, .001], [2.5955, .007], [2.598, .005],
  [2.6, .0055], [2.605, .003], [2.61, .005], [2.615, .0027], [2.62, .0052], [2.625, .0025], [2.63, .005], [2.635, .0032], [2.64, .0048], [2.645, .0028], [2.65, .0047], [2.655, .0018], [2.66, .0045], [2.665, .0022], [2.67, .0042], [2.675, .0027], [2.68, .0042], [2.685, .003], [2.69, .0044], [2.695, .003], [2.697, .0065], [2.699, .003], [2.7, .0025],
];

const xTicks = { a: [2, 2.8], c: [1.9, 2.7] };
const labelFont = "Liberation Sans, Arial, sans-serif";

function flatten(cols: number[][]) {
  const out: number[][] = [];
  cols.forEach((c) => c.slice(1).forEach((v) => out.push([c[0], v])));
  return out;
}

function axisSet(grid: number, xr: number[], yr: number[], yInt: number, xName: string, yName: string, yItalic: boolean, yGap: number, yNameSize: number, boxW: number) {
  const line = { show: true, lineStyle: { color: INK, width: boxW } };
  const tick = { show: true, inside: true, length: 6, lineStyle: { color: INK, width: 1 } };
  return {
    x: [
      { type: "value", gridIndex: grid, min: xr[0], max: xr[1], interval: 0.1, position: "bottom", name: xName, nameLocation: "middle", nameGap: 42,
        nameTextStyle: { fontFamily: labelFont, fontSize: 26, color: INK }, splitLine: { show: false }, axisLine: { ...line, onZero: false }, axisTick: tick,
        axisLabel: { fontFamily: labelFont, fontSize: 19, color: INK, margin: 11, hideOverlap: false } },
      { type: "value", gridIndex: grid, min: xr[0], max: xr[1], interval: 0.1, position: "top", splitLine: { show: false }, axisLine: { ...line, onZero: false }, axisTick: tick, axisLabel: { show: false } },
    ],
    y: [
      { type: "value", gridIndex: grid, min: yr[0], max: yr[1], interval: yInt, position: "left", name: yName, nameLocation: "middle", nameGap: yGap,
        nameTextStyle: { fontFamily: labelFont, fontSize: yNameSize, color: INK, fontStyle: yItalic ? "italic" : "normal" }, splitLine: { show: false }, axisLine: { ...line, onZero: false }, axisTick: tick,
        axisLabel: { fontFamily: labelFont, fontSize: 19, color: INK, margin: 8, hideOverlap: false } },
      { type: "value", gridIndex: grid, min: yr[0], max: yr[1], interval: yInt, position: "right", splitLine: { show: false }, axisLine: { ...line, onZero: false }, axisTick: tick, axisLabel: { show: false } },
    ],
  };
}

function bifurcation(xIdx: number, yIdx: number, color: string, thick: number[][][], thin: number[][][], dotted: number[][][], columns: number[][]) {
  const base = { type: "line", xAxisIndex: xIdx, yAxisIndex: yIdx, showSymbol: false, smooth: false, silent: true };
  const out: any[] = [];
  thick.forEach((data) => out.push({ ...base, data, lineStyle: { color, width: 5, cap: "round", join: "round" } }));
  thin.forEach((data) => out.push({ ...base, data, lineStyle: { color, width: 4, cap: "round", join: "round" } }));
  dotted.forEach((data) => out.push({ ...base, data, lineStyle: { color, width: 4.5, cap: "round", type: [0.5, 5.5] } }));
  out.push({
    type: "scatter", xAxisIndex: xIdx, yAxisIndex: yIdx, data: flatten(columns), symbol: "circle", symbolSize: 5.2, silent: true,
    itemStyle: { color, opacity: 1 },
  });
  return out;
}

export default function App() {
  const ref = useRef<HTMLDivElement>(null);
  useEffect(() => {
    document.body.style.margin = "0";
    const chart = echarts.init(ref.current!, null, { renderer: "svg" });
    const a = axisSet(0, xTicks.a, [0.3, 0.9], 0.1, "r", "x", true, 44, 26, 1);
    const b = axisSet(1, xTicks.a, [0.3, 1.3], 0.1, "r", "y", true, 44, 26, 1);
    const c = axisSet(2, xTicks.c, [-0.12, 0.02], 0.02, "r", "Maximal LE", false, 60, 27, 2);
    const caption = (text: string, x: number, y: number) => ({
      type: "text", x, y, style: { text, fontFamily: "Liberation Serif, Times New Roman, serif", fontWeight: "bold", fontSize: 30, fill: "#000", textAlign: "center", textVerticalAlign: "middle" },
    });
    chart.setOption({
      animation: false,
      backgroundColor: "#fff",
      grid: [
        { left: 70, top: 8, width: 610, height: 479, outerBoundsMode: "none" },
        { left: 793, top: 8, width: 612, height: 479, outerBoundsMode: "none" },
        { left: 84, top: 641, width: 611, height: 477, outerBoundsMode: "none" },
      ],
      xAxis: [...a.x, ...b.x, ...c.x],
      yAxis: [...a.y, ...b.y, ...c.y],
      series: [
        ...bifurcation(0, 0, BLUE, [xStable, xUpper, xLower, xUpper2, xUpper3, xLower2, xLower3, xWindowLow], [xMeshA, xMeshB, xMeshC, xMeshD, xMeshE, xMeshF, xMeshG], [xWindowTop, xWindow2], [...xColumns, ...xExtra, ...xLattice]),
        ...bifurcation(2, 2, RED, [yStable, yUpper, yLower, yUpper2, yUpper3, yLower2, yLower3], [yWindowUp, yWindowLow, yMeshA, yMeshB, yMeshC, yMeshD, yMeshE, yMeshF, yMeshG], [yWindow2], [...yColumns, ...yExtra, ...yLattice]),
        { type: "line", xAxisIndex: 4, yAxisIndex: 4, data: [[1.9, 0], [2.7, 0]], showSymbol: false, silent: true, z: 1, lineStyle: { color: "#000", width: 2.5 } },
        { type: "line", xAxisIndex: 4, yAxisIndex: 4, data: leCurve, showSymbol: false, silent: true, z: 2, clip: false, lineStyle: { color: BLUE, width: 5, join: "round", cap: "round" } },
      ],
      graphic: [caption("(a)", 343, 588), caption("(b)", 1107, 588), caption("(c)", 360, 1217)],
    });
    return () => chart.dispose();
  }, []);
  return <div ref={ref} style={{ width: 1417, height: 1232, position: "absolute", left: 0, top: 0 }} />;
}
